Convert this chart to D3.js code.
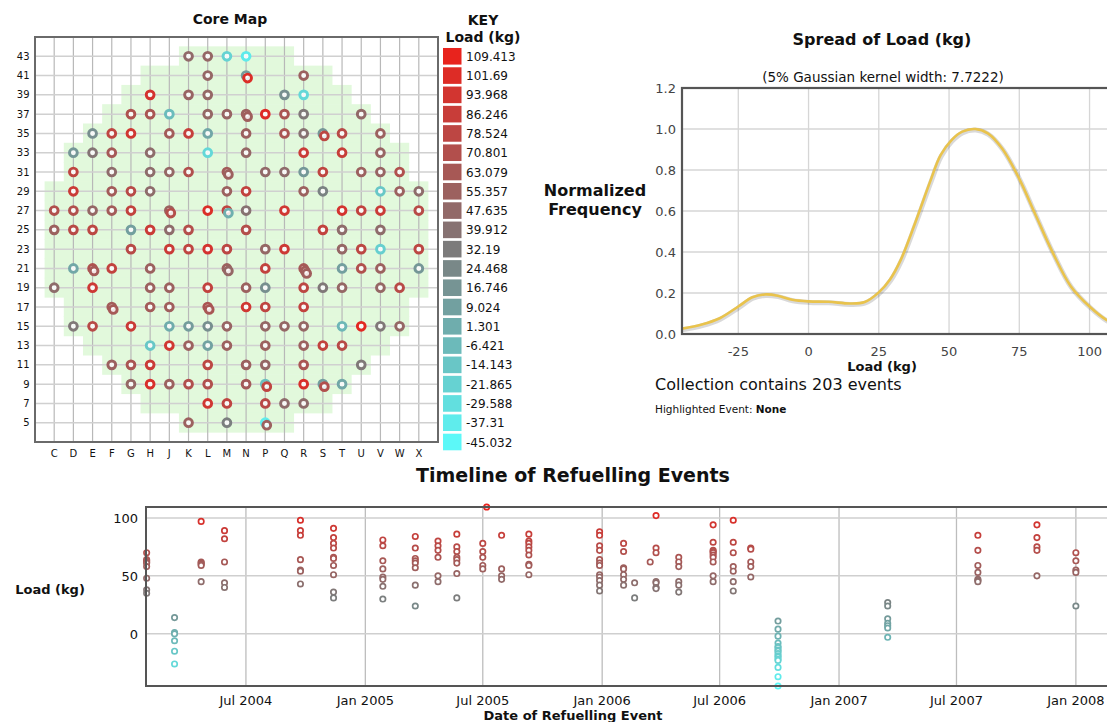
<!DOCTYPE html>
<html>
<head>
<meta charset="utf-8">
<script src="https://cdn.jsdelivr.net/npm/d3@7"></script>
<style>
  body { margin: 0; background: #fff; }
  svg text { font-family: "DejaVu Sans", Verdana, sans-serif; fill: #111; }
</style>
</head>
<body>
<svg id="chart" width="1107" height="722"></svg>
<script>
// Core map grid
const cols = ['C','D','E','F','G','H','J','K','L','M','N','P','Q','R','S','T','U','V','W','X'];
const rows = [43,41,39,37,35,33,31,29,27,25,23,21,19,17,15,13,11,9,7,5];
// first / last column of the core for each row
const coreFrom = ['K','H','G','F','E','D','D','C','C','C','C','C','C','D','D','E','F','G','H','K'];
const coreTo   = ['Q','S','T','U','V','W','W','X','X','X','X','X','X','W','W','V','U','T','S','Q'];

// key (legend) labels
const keyLabels = ['109.413','101.69','93.968','86.246','78.524','70.801','63.079','55.357','47.635','39.912',
  '32.19','24.468','16.746','9.024','1.301','-6.421','-14.143','-21.865','-29.588','-37.31','-45.032'];

// events on the core map: cell + load
const mapCells = [
  'K43','L43','M43','N43',
  'L41','N41','N41','R41',
  'H39','K39','L39','Q39','R39',
  'G37','H37','J37','L37','M37','N37','N37','P37','Q37','R37','U37',
  'E35','F35','G35','J35','K35','L35','N35','Q35','R35','S35','S35','T35','V35',
  'D33','E33','F33','H33','L33','N33','R33','T33','V33',
  'D31','F31','H31','J31','K31','M31','M31','P31','Q31','R31','S31','U31','V31','W31',
  'D29','F29','G29','H29','M29','N29','R29','S29','V29','W29','X29',
  'C27','D27','E27','F27','G27','J27','J27','L27','M27','M27','N27','Q27','T27','U27','V27','X27',
  'C25','D25','E25','G25','H25','J25','K25','N25','S25','T25','V25',
  'G23','J23','K23','L23','M23','P23','Q23','T23','U23','V23','X23',
  'D21','E21','E21','F21','H21','M21','M21','P21','R21','R21','R21','T21','U21','V21','X21',
  'C19','E19','H19','J19','L19','N19','P19','R19','S19','T19','V19','W19',
  'F17','F17','H17','J17','L17','L17','N17','P17','R17',
  'D15','E15','G15','J15','K15','L15','M15','P15','Q15','R15','T15','U15','V15','W15',
  'H13','J13','K13','L13','M13','P13','R13','S13','T13',
  'F11','G11','H11','L11','N11','P11','R11','U11',
  'G9','H9','J9','K9','L9','N9','P9','P9','R9','S9','S9','T9',
  'L7','M7','P7','Q7','R7',
  'K5','M5','P5','P5'
];
const mapLoads = [
  47,50,-22,-37,
  50,12,100,55,
  95,52,50,20,-25,
  68,65,-8,50,52,55,58,102,65,35,48,
  20,80,92,60,85,5,55,65,40,15,78,75,55,
  15,38,62,45,-25,50,88,86,52,
  80,45,45,50,70,60,56,48,45,14,80,55,52,70,
  88,60,75,45,55,82,55,28,-15,55,45,
  70,70,50,60,82,55,72,100,80,0,40,92,95,82,88,75,
  55,75,78,10,88,45,72,72,82,45,45,
  75,88,80,95,78,50,90,50,78,-20,78,
  5,68,62,82,55,55,50,82,62,60,58,10,70,55,15,
  45,90,55,55,82,55,20,78,35,50,50,75,
  60,62,60,58,66,64,92,80,82,
  35,75,88,2,12,20,52,50,50,50,-5,105,35,50,
  -15,92,55,8,55,55,55,82,75,
  55,65,88,78,55,50,65,35,
  50,98,55,70,70,60,-10,80,98,10,70,5,
  92,80,75,45,45,
  55,30,-38,55
];

// density curve
const densLoad = [-45.03,-38,-31.6,-25,-20,-15.5,-11,-5.8,0,7.1,14.8,20,25,29,32.9,38,43.2,47,50.9,54.7,59.3,63.8,68.9,75,80.4,86.9,93.3,100,106,109.41];
const densFreq = [0.026,0.046,0.077,0.134,0.179,0.193,0.187,0.167,0.159,0.157,0.149,0.156,0.203,0.266,0.364,0.544,0.741,0.872,0.946,0.987,1.0,0.979,0.905,0.757,0.593,0.397,0.233,0.134,0.069,0.05];
const densTicksX = [-25,0,25,50,75,100];
const densTicksY = [0,0.2,0.4,0.6,0.8,1.0,1.2];

// timeline: refuelling dates and loads of each event
const tlDates = ['2004-01-30','2004-03-13','2004-04-23','2004-05-29','2004-09-23','2004-11-13','2005-01-28','2005-03-19',
  '2005-04-23','2005-05-22','2005-07-01','2005-07-07','2005-07-30','2005-09-10','2005-12-28','2006-02-03','2006-02-20',
  '2006-03-16','2006-03-25','2006-04-29','2006-06-21','2006-07-22','2006-08-18','2006-09-29','2007-03-17','2007-08-03',
  '2007-11-02','2008-01-01'];
const tlLoads = [
  [70,64,63,62,61,58,48,38,35],
  [14,1,0,-6,-15,-26],
  [97,62,61,60,59,45],
  [89,82,62,44,40],
  [98,89,85,64,55,54,43],
  [91,83,78,74,66,65,59,51,36,31],
  [81,76,63,56,49,47,41,30],
  [84,74,65,63,61,57,42,24],
  [80,76,72,66,50,45],
  [86,75,71,66,64,61,52,31],
  [78,71,66,59,56],
  [109.41],
  [85,56,50,47],
  [86,80,78,75,72,68,60,59,51],
  [88,85,76,72,64,61,59,51,49,46,42,37],
  [78,71,57,56,51,47,42],
  [44,31],
  [62],
  [102,74,70,45,44,40,39],
  [66,62,58,45,42,36],
  [94,79,72,71,70,68,66,62,50,45],
  [98,79,70,58,54,45,37],
  [74,73,62,58,49],
  [11,4,-2,-8,-11,-12,-14,-15,-17,-19,-20,-22,-23,-29,-37,-45.03],
  [27,24,13,9,7,5,-3],
  [85,72,59,53,47,46,45],
  [94,83,75,72,50],
  [70,63,55,53,24]
];

const svg = d3.select('#chart');

const kMax = +keyLabels[0], kMin = +keyLabels[keyLabels.length - 1];
const kMid = (kMax + kMin) / 2;
const color = d3.scaleLinear().domain([kMin, kMid, kMax])
  .range(['#5cf8f8', '#7c7b7b', '#e8231d']);

// ---------------- core map ----------------
const mx = d3.scalePoint().domain(cols).range([35, 438]).padding(1);
const my = d3.scalePoint().domain(rows).range([37, 442]).padding(1);
const sx = mx.step(), sy = my.step();

const gMap = svg.append('g');
gMap.append('g').selectAll('rect').data(rows).join('rect')
  .attr('x', (r, i) => mx(coreFrom[i]) - sx / 2)
  .attr('width', (r, i) => mx(coreTo[i]) - mx(coreFrom[i]) + sx)
  .attr('y', r => my(r) - sy / 2 - 0.3)
  .attr('height', sy + 0.6)
  .attr('fill', '#e2f9dc');

gMap.append('g').selectAll('line').data(cols).join('line')
  .attr('x1', d => mx(d)).attr('x2', d => mx(d))
  .attr('y1', 37).attr('y2', 442)
  .attr('stroke', '#b8b8b8').attr('stroke-width', 1.2);
gMap.append('g').selectAll('line').data(rows).join('line')
  .attr('y1', d => my(d)).attr('y2', d => my(d))
  .attr('x1', 35).attr('x2', 438)
  .attr('stroke', '#d0d0d0').attr('stroke-width', 1.5);
gMap.append('rect').attr('x', 35).attr('y', 37).attr('width', 403).attr('height', 405)
  .attr('fill', 'none').attr('stroke', '#6a6a6a').attr('stroke-width', 2);

gMap.append('g').selectAll('text').data(rows).join('text')
  .attr('x', 29.5).attr('y', d => my(d) + 3.5)
  .attr('text-anchor', 'end').attr('font-size', 10).text(d => d);
gMap.append('g').selectAll('text').data(cols).join('text')
  .attr('x', d => mx(d)).attr('y', 457)
  .attr('text-anchor', 'middle').attr('font-size', 10).text(d => d);

svg.append('text').attr('x', 230).attr('y', 24).attr('text-anchor', 'middle')
  .attr('font-size', 14).attr('font-weight', 'bold').text('Core Map');

// events on the map (duplicates in one cell nudged slightly)
const seen = {};
const mapEvents = mapCells.map((c, i) => {
  const k = seen[c] || 0; seen[c] = k + 1;
  return { col: c[0], row: +c.slice(1), load: mapLoads[i], k };
});
gMap.append('g').selectAll('circle').data(mapEvents).join('circle')
  .attr('cx', d => mx(d.col) + d.k * 1.5)
  .attr('cy', d => my(d.row) + d.k * 2.5)
  .attr('r', 3.9)
  .attr('fill', '#fff').attr('fill-opacity', 0.85)
  .attr('stroke', d => color(d.load)).attr('stroke-width', 2.9);

// key
const ky = d3.scalePoint().domain(keyLabels).range([my(43), my(5) + sy]);
svg.append('text').attr('x', 483).attr('y', 25).attr('text-anchor', 'middle')
  .attr('font-size', 14).attr('font-weight', 'bold').text('KEY');
svg.append('text').attr('x', 483).attr('y', 42).attr('text-anchor', 'middle')
  .attr('font-size', 14).attr('font-weight', 'bold').text('Load (kg)');
const gKey = svg.append('g');
gKey.selectAll('rect').data(keyLabels).join('rect')
  .attr('x', 443).attr('y', d => ky(d) - 8.3).attr('width', 18.5).attr('height', 16.6)
  .attr('fill', d => color(+d));
gKey.selectAll('text').data(keyLabels).join('text')
  .attr('x', 466).attr('y', d => ky(d) + 4.5).attr('font-size', 12).text(d => d);

// ---------------- density ----------------
const dx = d3.scaleLinear().domain([kMin, kMax]).range([682, 1116]);
const dy = d3.scaleLinear().domain([0, 1.2]).range([334, 88]);
const gD = svg.append('g');
gD.append('g').selectAll('line').data(densTicksX).join('line')
  .attr('x1', d => dx(d)).attr('x2', d => dx(d)).attr('y1', 88).attr('y2', 334)
  .attr('stroke', '#d6d6d6').attr('stroke-width', 1.3);
gD.append('g').selectAll('line').data(densTicksY).join('line')
  .attr('y1', d => dy(d)).attr('y2', d => dy(d)).attr('x1', 682).attr('x2', 1116)
  .attr('stroke', '#d6d6d6').attr('stroke-width', 1.3);

svg.append('clipPath').attr('id', 'dclip').append('rect')
  .attr('x', 682).attr('y', 88).attr('width', 434).attr('height', 246);
const dline = d3.line().x(d => dx(d[0])).y(d => dy(d[1])).curve(d3.curveCatmullRom);
const dpts = d3.zip(densLoad, densFreq);
gD.append('path').attr('d', dline(dpts)).attr('clip-path', 'url(#dclip)')
  .attr('transform', 'translate(0.6,1)')
  .attr('fill', 'none').attr('stroke', '#000').attr('stroke-opacity', 0.15).attr('stroke-width', 5);
gD.append('path').attr('d', dline(dpts)).attr('clip-path', 'url(#dclip)')
  .attr('fill', 'none').attr('stroke', '#e9c34c').attr('stroke-width', 2.6);

gD.append('rect').attr('x', 682).attr('y', 88).attr('width', 434).attr('height', 246)
  .attr('fill', 'none').attr('stroke', '#555').attr('stroke-width', 2.2);

gD.append('g').selectAll('text').data(densTicksY).join('text')
  .attr('x', 676).attr('y', d => dy(d) + 4.5).attr('text-anchor', 'end')
  .attr('font-size', 13).style('fill', '#444').text(d3.format('.1f'));
gD.append('g').selectAll('text').data(densTicksX).join('text')
  .attr('x', d => dx(d)).attr('y', 356).attr('text-anchor', 'middle')
  .attr('font-size', 13).style('fill', '#444').text(d => d);

svg.append('text').attr('x', 882).attr('y', 45).attr('text-anchor', 'middle')
  .attr('font-size', 16).attr('font-weight', 'bold').text('Spread of Load (kg)');
svg.append('text').attr('x', 883).attr('y', 82).attr('text-anchor', 'middle')
  .attr('font-size', 13.5).text('(5% Gaussian kernel width: 7.7222)');
svg.append('text').attr('x', 595).attr('y', 196).attr('text-anchor', 'middle')
  .attr('font-size', 16).attr('font-weight', 'bold').text('Normalized');
svg.append('text').attr('x', 595).attr('y', 215).attr('text-anchor', 'middle')
  .attr('font-size', 16).attr('font-weight', 'bold').text('Frequency');
svg.append('text').attr('x', 882).attr('y', 371).attr('text-anchor', 'middle')
  .attr('font-size', 13).attr('font-weight', 'bold').text('Load (kg)');
svg.append('text').attr('x', 655).attr('y', 390).attr('font-size', 16)
  .text('Collection contains 203 events');
const hl = svg.append('text').attr('x', 655).attr('y', 413).attr('font-size', 10.5);
hl.append('tspan').text('Highlighted Event: ');
hl.append('tspan').attr('font-weight', 'bold').text('None');

// ---------------- timeline ----------------
const parse = d3.timeParse('%Y-%m-%d');
const tx = d3.scaleTime().domain([parse('2004-01-29'), parse('2008-03-09')]).range([146, 1120]);
const ty = d3.scaleLinear().domain([kMin, kMax]).range([686, 507]);
const tYTicks = [0, 50, 100];
const tXTicks = tx.ticks(d3.timeMonth.every(6));

const gT = svg.append('g');
gT.append('g').selectAll('line').data(tXTicks).join('line')
  .attr('x1', d => tx(d)).attr('x2', d => tx(d)).attr('y1', 507).attr('y2', 686)
  .attr('stroke', '#bdbdbd').attr('stroke-width', 1.3);
gT.append('g').selectAll('line').data(tYTicks).join('line')
  .attr('y1', d => ty(d)).attr('y2', d => ty(d)).attr('x1', 146).attr('x2', 1120)
  .attr('stroke', '#cfcfcf').attr('stroke-width', 1.5);

const tlEvents = [];
tlDates.forEach((d, i) => tlLoads[i].forEach(v => tlEvents.push({ date: parse(d), load: v })));
gT.append('g').selectAll('circle').data(tlEvents).join('circle')
  .attr('cx', d => tx(d.date)).attr('cy', d => ty(d.load))
  .attr('r', 2.7).attr('fill', '#fff')
  .attr('stroke', d => color(d.load)).attr('stroke-width', 1.7);

gT.append('rect').attr('x', 146).attr('y', 507).attr('width', 974).attr('height', 179)
  .attr('fill', 'none').attr('stroke', '#555').attr('stroke-width', 2);

gT.append('g').selectAll('text').data(tYTicks).join('text')
  .attr('x', 138).attr('y', d => ty(d) + 5).attr('text-anchor', 'end')
  .attr('font-size', 13).text(d => d);
gT.append('g').selectAll('text').data(tXTicks).join('text')
  .attr('x', d => tx(d)).attr('y', 705).attr('text-anchor', 'middle')
  .attr('font-size', 13).text(d3.timeFormat('%b %Y'));

svg.append('text').attr('x', 573).attr('y', 482).attr('text-anchor', 'middle')
  .attr('font-size', 19).attr('font-weight', 'bold').text('Timeline of Refuelling Events');
svg.append('text').attr('x', 50).attr('y', 594).attr('text-anchor', 'middle')
  .attr('font-size', 13).attr('font-weight', 'bold').text('Load (kg)');
svg.append('text').attr('x', 573).attr('y', 720).attr('text-anchor', 'middle')
  .attr('font-size', 13).attr('font-weight', 'bold').text('Date of Refuelling Event');
</script>
</body>
</html>
